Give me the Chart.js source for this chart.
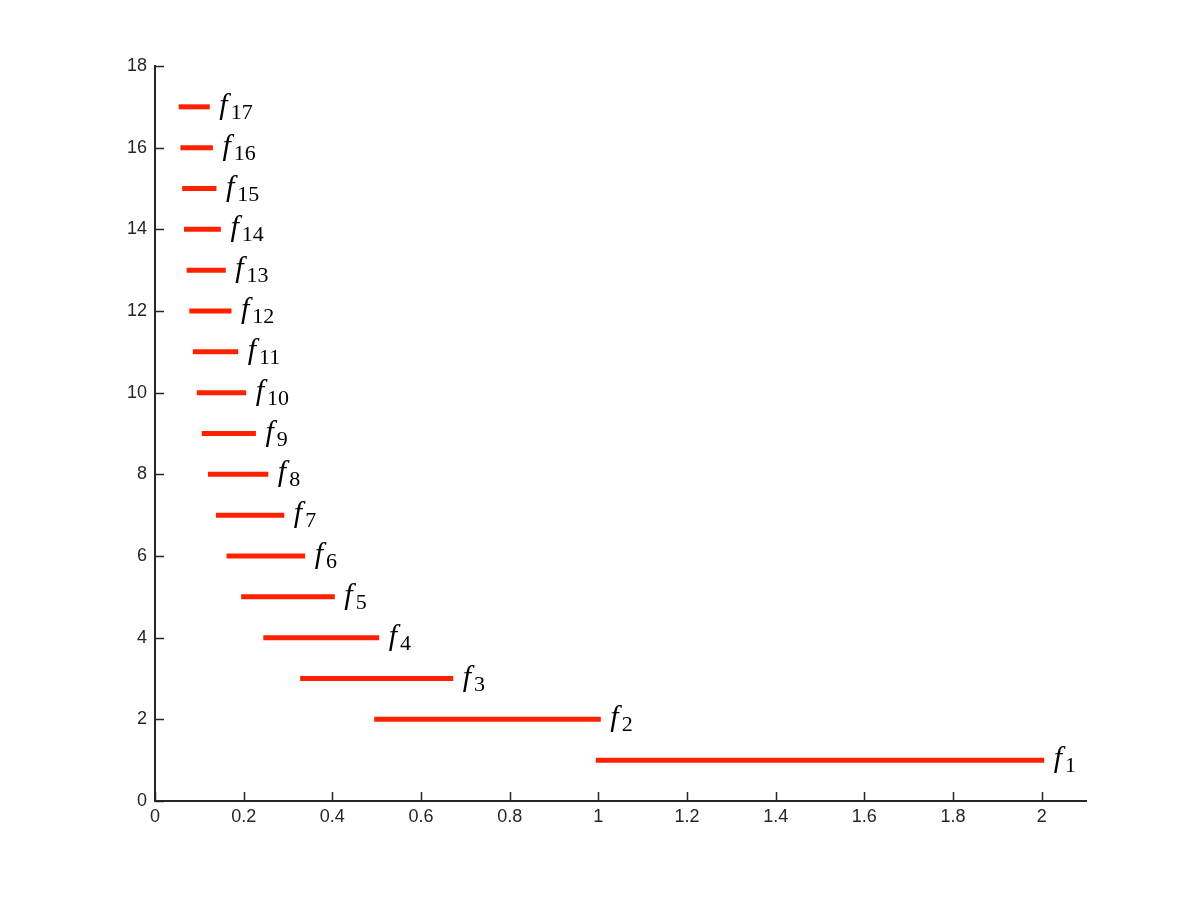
<!DOCTYPE html>
<html>
<head>
<meta charset="utf-8">
<script src="https://cdn.jsdelivr.net/npm/chart.js@4/dist/chart.umd.min.js"></script>
<style>
  html, body { margin: 0; padding: 0; background: #fff; }
  canvas { display: block; }
</style>
</head>
<body>
<canvas id="chart" width="1200" height="900"></canvas>
<script>
// segment data
const labels = ['1', '2', '3', '4', '5', '6', '7', '8', '9', '10', '11', '12', '13', '14', '15', '16', '17'];
const levels = [1, 2, 3, 4, 5, 6, 7, 8, 9, 10, 11, 12, 13, 14, 15, 16, 17];
const startX = [1.0, 0.5, 0.333, 0.25, 0.2, 0.167, 0.143, 0.125, 0.111, 0.1, 0.091, 0.083, 0.077, 0.071, 0.067, 0.063, 0.059];
const endX = [2.0, 1.0, 0.667, 0.5, 0.4, 0.333, 0.286, 0.25, 0.222, 0.2, 0.182, 0.167, 0.154, 0.143, 0.133, 0.125, 0.118];
const xTicks = [0, 0.2, 0.4, 0.6, 0.8, 1, 1.2, 1.4, 1.6, 1.8, 2];
const yTicks = [0, 2, 4, 6, 8, 10, 12, 14, 16, 18];

const AXIS = '#262626';
const RED = 'rgb(255, 32, 0)';

const datasets = levels.map((y, i) => ({
  label: 'f' + labels[i],
  data: [{ x: startX[i], y: y }, { x: endX[i], y: y }],
  borderColor: RED,
  borderWidth: 5,
  borderCapStyle: 'square',
  pointRadius: 0,
  fill: false,
  tension: 0
}));

// inward ticks like the original
const innerTicks = {
  id: 'innerTicks',
  afterDraw(chart) {
    const { ctx, scales: { x, y }, chartArea } = chart;
    ctx.save();
    ctx.strokeStyle = AXIS;
    ctx.lineWidth = 1.5;
    ctx.beginPath();
    xTicks.forEach(v => {
      const px = Math.round(x.getPixelForValue(v)) + 0.5;
      ctx.moveTo(px, chartArea.bottom);
      ctx.lineTo(px, chartArea.bottom - 9);
    });
    yTicks.forEach(v => {
      const py = Math.round(y.getPixelForValue(v)) + 0.5;
      ctx.moveTo(chartArea.left, py);
      ctx.lineTo(chartArea.left + 9, py);
    });
    ctx.stroke();
    ctx.restore();
  }
};

// f_n labels at the right end of every segment
const segLabels = {
  id: 'segLabels',
  afterDatasetsDraw(chart) {
    const { ctx, scales: { x, y } } = chart;
    ctx.save();
    ctx.fillStyle = '#000';
    ctx.textBaseline = 'alphabetic';
    ctx.textAlign = 'left';
    levels.forEach((lv, i) => {
      const px = x.getPixelForValue(endX[i]) + 12;
      const py = y.getPixelForValue(lv) + 7;
      ctx.font = 'italic 30px "Liberation Serif"';
      ctx.fillText('f', px, py);
      const w = ctx.measureText('f').width;
      ctx.font = '22px "Liberation Serif"';
      ctx.fillText(labels[i], px + w + 3, py + 5);
    });
    ctx.restore();
  }
};

const config = {
  type: 'line',
  data: { datasets: datasets },
  options: {
    responsive: false,
    animation: false,
    devicePixelRatio: 1,
    layout: { padding: { top: 66, right: 114, bottom: 0, left: 0 } },
    plugins: {
      legend: { display: false },
      tooltip: { enabled: false }
    },
    scales: {
      x: {
        type: 'linear',
        min: 0,
        max: 2.1,
        afterFit: s => { s.height = 99; },
        afterBuildTicks: s => { s.ticks = xTicks.map(v => ({ value: v })); },
        grid: { display: false, drawTicks: false },
        border: { display: true, color: AXIS, width: 2 },
        ticks: {
          padding: 5,
          color: AXIS,
          font: { family: '"Liberation Sans", Arial, sans-serif', size: 18 },
          callback: v => String(v)
        }
      },
      y: {
        type: 'linear',
        min: 0,
        max: 18,
        afterFit: s => { s.width = 155; },
        afterBuildTicks: s => { s.ticks = yTicks.map(v => ({ value: v })); },
        grid: { display: false, drawTicks: false },
        border: { display: true, color: AXIS, width: 2 },
        ticks: {
          padding: 8,
          color: AXIS,
          font: { family: '"Liberation Sans", Arial, sans-serif', size: 18 },
          callback: v => String(v)
        }
      }
    }
  },
  plugins: [innerTicks, segLabels]
};

new Chart(document.getElementById('chart'), config);
</script>
</body>
</html>
